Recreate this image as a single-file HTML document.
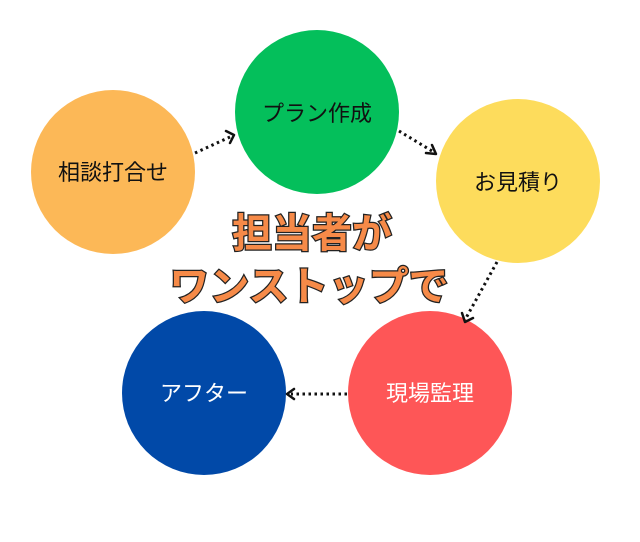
<!DOCTYPE html>
<html><head><meta charset="utf-8"><style>
html,body{margin:0;padding:0;background:#fff;}
svg{display:block;}
text{font-family:"Liberation Sans","Noto Sans CJK JP",sans-serif;}
</style></head><body>
<svg width="640" height="542" viewBox="0 0 640 542" xmlns="http://www.w3.org/2000/svg">
<circle cx="113" cy="172" r="82" fill="#fcb857"/>
<circle cx="317" cy="112" r="82" fill="#04bf5b"/>
<circle cx="518" cy="181" r="82" fill="#fddc5c"/>
<circle cx="430" cy="393" r="82" fill="#fe5657"/>
<circle cx="204" cy="393" r="82" fill="#0149a8"/>
<g font-size="22" fill="#111" text-anchor="middle">
<text x="113" y="180">相談打合せ</text>
<text x="317" y="121">プラン作成</text>
<text x="518" y="190">お見積り</text>
<text x="430" y="401" fill="#fff">現場監理</text>
<text x="204" y="401" fill="#fff">アフター</text>
</g>
<g stroke="#111" stroke-width="3" stroke-dasharray="2.5 3.5" fill="none">
<line x1="195" y1="153" x2="230" y2="137"/>
<line x1="399" y1="131" x2="432" y2="151"/>
<line x1="497" y1="262" x2="466" y2="318"/>
<line x1="347" y1="394" x2="291" y2="394"/>
</g>
<g stroke="#111" stroke-width="2.5" fill="none" stroke-linecap="round" stroke-linejoin="round">
<polyline points="226,131 234,135 230,143"/>
<polyline points="426,153 436,154 432,145"/>
<polyline points="462,313 465,322 473,318"/>
<polyline points="294,389 287,394 294,399"/>
</g>
<g font-size="40" font-weight="bold" fill="#f68a48" stroke="#222" stroke-width="2.5" paint-order="stroke" text-anchor="middle">
<text x="312" y="247">担当者が</text>
<text x="309" y="300">ワンストップで</text>
</g>
</svg>
</body></html>
